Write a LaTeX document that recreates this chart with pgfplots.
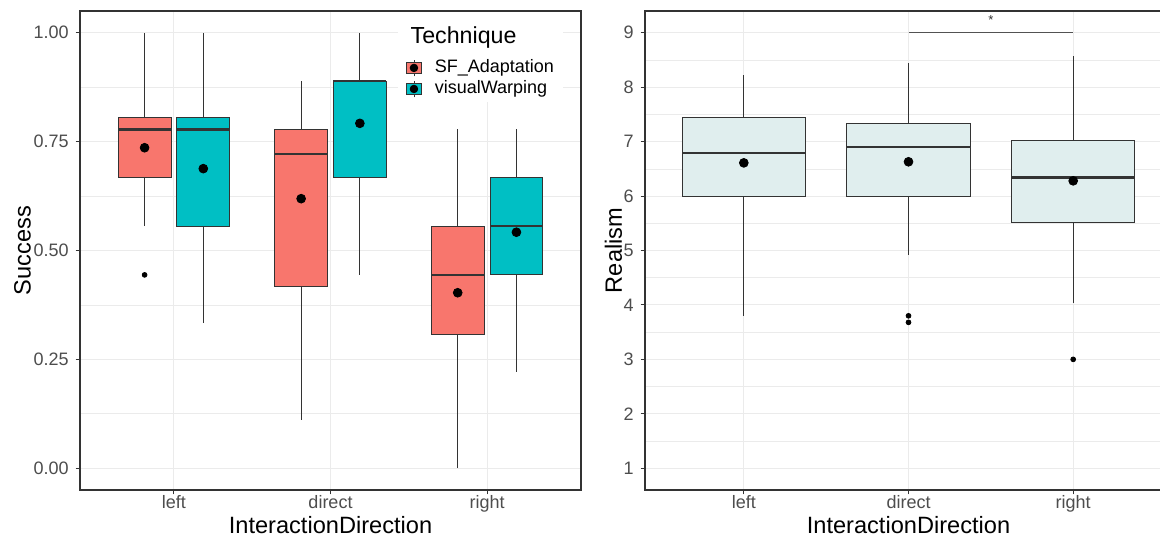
\documentclass[border=0pt]{standalone}
\usepackage{pgfplots}
\pgfplotsset{compat=1.18}
\usepgfplotslibrary{statistics}
\usepackage{fontspec}
\setmainfont{Liberation Sans}
\definecolor{gtwenty}{HTML}{333333}
\definecolor{gthirty}{HTML}{4D4D4D}
\definecolor{gridc}{HTML}{EBEBEB}
\definecolor{sfc}{HTML}{F8766D}
\definecolor{vwc}{HTML}{00BFC4}
\definecolor{boxc}{HTML}{E0EEEE}
\pgfplotsset{
  bw/.style={
    scale only axis,
    height=239.5pt,
    xmin=0.4, xmax=3.6,
    xtick={1,2,3},
    xticklabels={left,direct,right},
    axis line style={gtwenty, line width=0.55pt},
    tick style={gtwenty, line width=0.5pt},
    tick align=outside,
    major tick length=2.2pt,
    minor tick length=0pt,
    xtick pos=bottom, ytick pos=left,
    xmajorgrids, ymajorgrids, yminorgrids,
    major grid style={gridc, line width=0.55pt},
    minor grid style={gridc, line width=0.3pt},
    ticklabel style={font=\fontsize{9}{10}\selectfont, text=gthirty},
    xticklabel style={yshift=0.5pt, inner sep=1pt},
    /pgf/number format/assume math mode=true,
    every axis x label/.style={at={([yshift=-17.7pt]axis description cs:0.5,0)}, anchor=center, inner sep=0pt, font=\fontsize{11.8}{13}\selectfont, text=black},
    boxplot/draw direction=y,
    boxplot/whisker extend=0,
    boxplot/every median/.style={line width=1.1pt},
    mean/.style={only marks, mark=*, mark size=2.2pt, black, forget plot},
    outl/.style={only marks, mark=*, mark size=1.2pt, black, forget plot},
    bx/.style={draw=gtwenty, line width=0.5pt, forget plot},
  }
}
\begin{document}
\begin{tikzpicture}
\useasboundingbox (0,0) rectangle (580pt,268pt);
% ---------------- Left panel ----------------
\begin{axis}[bw, at={(40pt,23pt)}, anchor=south west, width=250.5pt,
  ymin=-0.05, ymax=1.05,
  ytick={0,0.25,0.5,0.75,1}, yticklabels={0.00,0.25,0.50,0.75,1.00},
  minor ytick={0.125,0.375,0.625,0.875},
  xlabel={InteractionDirection}, ylabel={Success},
  every axis y label/.style={at={([xshift=-28.75pt]axis description cs:0,0.5)}, rotate=90, anchor=center, font=\fontsize{11.8}{13}\selectfont, text=black},
  legend style={at={(rel axis cs:0.65,0.905)}, anchor=north west, draw=none, fill=none,
    font=\fontsize{9}{10}\selectfont, row sep=-0.5pt, inner sep=0pt, nodes={inner sep=1.5pt},
    /tikz/every odd column/.append style={column sep=5pt}},
  legend cell align=left,
]
\fill[white] (rel axis cs:0.635,0.81) rectangle (rel axis cs:0.964,0.998);
\node[anchor=west, font=\fontsize{11.6}{13}\selectfont] at (rel axis cs:0.646,0.944) {Technique};
% left
\addplot[bx, fill=sfc, boxplot prepared={draw position=0.8125, lower whisker=0.556, lower quartile=0.667, median=0.778, upper quartile=0.806, upper whisker=1.0, box extend=0.3375}] coordinates {};
\addplot[bx, fill=vwc, boxplot prepared={draw position=1.1875, lower whisker=0.333, lower quartile=0.556, median=0.778, upper quartile=0.806, upper whisker=1.0, box extend=0.3375}] coordinates {};
% direct
\addplot[bx, fill=sfc, boxplot prepared={draw position=1.8125, lower whisker=0.111, lower quartile=0.417, median=0.722, upper quartile=0.778, upper whisker=0.889, box extend=0.3375}] coordinates {};
\addplot[bx, fill=vwc, boxplot prepared={draw position=2.1875, lower whisker=0.444, lower quartile=0.667, median=0.889, upper quartile=0.889, upper whisker=1.0, box extend=0.3375}] coordinates {};
% right
\addplot[bx, fill=sfc, boxplot prepared={draw position=2.8125, lower whisker=0.0, lower quartile=0.306, median=0.444, upper quartile=0.556, upper whisker=0.778, box extend=0.3375}] coordinates {};
\addplot[bx, fill=vwc, boxplot prepared={draw position=3.1875, lower whisker=0.222, lower quartile=0.444, median=0.556, upper quartile=0.667, upper whisker=0.778, box extend=0.3375}] coordinates {};
% outliers
\addplot[outl] coordinates {(0.8125,0.444)};
% means
\addplot[mean] coordinates {(0.8125,0.736) (1.1875,0.688) (1.8125,0.619) (2.1875,0.792) (2.8125,0.403) (3.1875,0.542)};
% legend
\addlegendimage{legend image code/.code={
  \draw[gtwenty, line width=0.4pt] (3.75pt,-4.2pt) -- (3.75pt,4.2pt);
  \draw[gtwenty, fill=sfc, line width=0.4pt] (0pt,-2.8pt) rectangle (7.5pt,2.8pt);
  \fill[black] (3.75pt,0pt) circle (1.9pt);}}
\addlegendentry{SF\_Adaptation}
\addlegendimage{legend image code/.code={
  \draw[gtwenty, line width=0.4pt] (3.75pt,-4.2pt) -- (3.75pt,4.2pt);
  \draw[gtwenty, fill=vwc, line width=0.4pt] (0pt,-2.8pt) rectangle (7.5pt,2.8pt);
  \fill[black] (3.75pt,0pt) circle (1.9pt);}}
\addlegendentry{visualWarping}
\end{axis}
% ---------------- Right panel ----------------
\begin{axis}[bw, at={(322.5pt,23pt)}, anchor=south west, width=263.5pt,
  ymin=0.6, ymax=9.4,
  ytick={1,2,3,4,5,6,7,8,9}, yticklabels={1,2,3,4,5,6,7,8,9},
  minor ytick={1.5,2.5,3.5,4.5,5.5,6.5,7.5,8.5},
  xlabel={InteractionDirection}, ylabel={Realism},
  every axis y label/.style={at={([xshift=-15.75pt]axis description cs:0,0.5)}, rotate=90, anchor=center, font=\fontsize{11.8}{13}\selectfont, text=black},
]
\addplot[bx, fill=boxc, boxplot prepared={draw position=1, lower whisker=3.8, lower quartile=6.0, median=6.79, upper quartile=7.45, upper whisker=8.23, box extend=0.75}] coordinates {};
\addplot[bx, fill=boxc, boxplot prepared={draw position=2, lower whisker=4.92, lower quartile=6.0, median=6.9, upper quartile=7.34, upper whisker=8.45, box extend=0.75}] coordinates {};
\addplot[bx, fill=boxc, boxplot prepared={draw position=3, lower whisker=4.03, lower quartile=5.52, median=6.34, upper quartile=7.03, upper whisker=8.57, box extend=0.75}] coordinates {};
\addplot[outl] coordinates {(2,3.8) (2,3.68) (3,3.0)};
\addplot[mean] coordinates {(1,6.61) (2,6.63) (3,6.28)};
\addplot[gtwenty!85, line width=0.45pt, forget plot] coordinates {(2,9) (3,9)};
\node[font=\fontsize{6.5}{7}\selectfont, text=gtwenty] at (axis cs:2.5,9.24) {*};
\end{axis}
\end{tikzpicture}
\end{document}
